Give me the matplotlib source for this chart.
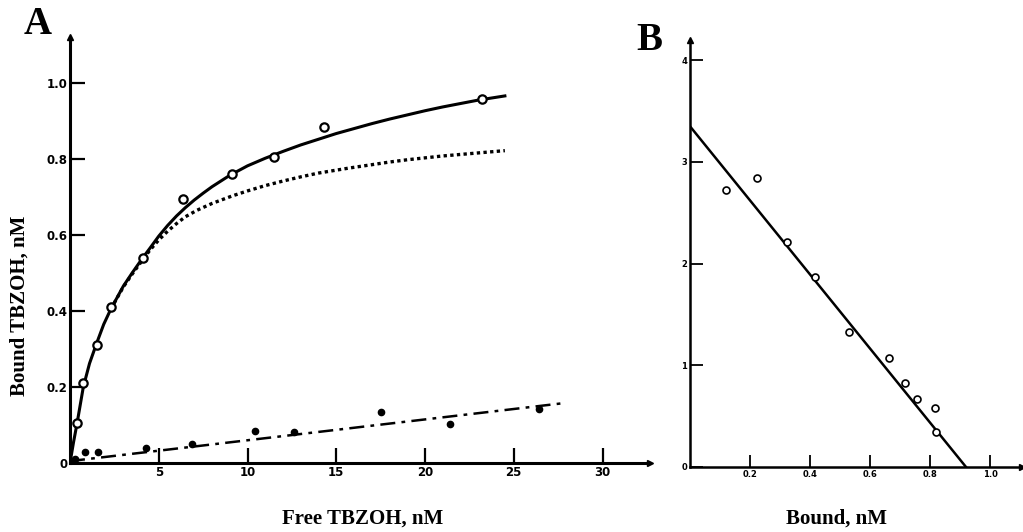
import matplotlib
matplotlib.use("Agg")
import matplotlib.pyplot as plt

# Panel A: saturation binding of TBZOH
total_x = [0.4, 0.75, 1.5, 2.3, 4.1, 6.35, 9.15, 11.5, 14.3, 23.2]
total_y = [0.105, 0.21, 0.31, 0.41, 0.54, 0.695, 0.76, 0.805, 0.885, 0.958]

nonspec_x = [0.3, 0.85, 1.6, 4.3, 6.9, 10.4, 12.6, 17.5, 21.4, 26.4]
nonspec_y = [0.01, 0.03, 0.03, 0.04, 0.05, 0.083, 0.082, 0.134, 0.103, 0.142]

# fitted curves
total_fit_x = [0, 0.2, 0.4, 0.75, 1.1, 1.5, 1.9, 2.3, 3.0, 3.5, 4.1, 4.5, 5.0, 5.5, 6.0,
               6.5, 7.0, 7.5, 8.0, 9.0, 10.0, 11.0, 12.0, 13.0, 14.0, 15.0, 16.0,
               17.0, 18.0, 19.0, 20.0, 21.0, 22.0, 23.0, 24.5]
total_fit_y = [0, 0.055, 0.105, 0.2, 0.262, 0.315, 0.365, 0.405, 0.465, 0.5, 0.54, 0.565,
               0.597, 0.625, 0.65, 0.672, 0.692, 0.71, 0.727, 0.757, 0.782, 0.802,
               0.82, 0.837, 0.852, 0.867, 0.88, 0.893, 0.905, 0.916, 0.927, 0.937,
               0.946, 0.955, 0.966]

spec_fit_x = [2.3, 3.0, 3.5, 4.1, 4.5, 5.0, 5.5, 6.0, 6.5, 7.15, 8.0, 9.15, 10.0, 11.0,
              12.0, 13.0, 14.0, 15.7, 17.0, 18.0, 19.0, 20.0, 21.0, 22.0, 23.0, 24.5]
spec_fit_y = [0.405, 0.463, 0.497, 0.535, 0.56, 0.587, 0.61, 0.63, 0.648, 0.665, 0.683,
              0.703, 0.716, 0.73, 0.742, 0.753, 0.763, 0.776, 0.785, 0.792, 0.798,
              0.803, 0.808, 0.812, 0.816, 0.822]

nonspec_fit_x = [0, 27.9]
nonspec_fit_y = [0.005, 0.158]

a_xticks = [5, 10, 15, 20, 25, 30]
a_yticks = [0, 0.2, 0.4, 0.6, 0.8, 1.0]
a_yticklabels = ["0", "0.2", "0.4", "0.6", "0.8", "1.0"]

# Panel B: Scatchard plot
scat_x = [0.12, 0.223, 0.323, 0.417, 0.53, 0.663, 0.717, 0.757, 0.817, 0.82]
scat_y = [2.72, 2.84, 2.21, 1.87, 1.33, 1.07, 0.83, 0.67, 0.58, 0.34]
scat_fit_x = [0.0, 0.92]
scat_fit_y = [3.35, 0.0]

b_xticks = [0.2, 0.4, 0.6, 0.8, 1.0]
b_xticklabels = ["0.2", "0.4", "0.6", "0.8", "1.0"]
b_yticks = [0, 1, 2, 3, 4]

W, H = 1023, 532
fig = plt.figure(figsize=(W / 100, H / 100), dpi=100)


def px_axes(x0, y0, x1, y1):
    # x0,y0 = origin pixel, x1,y1 = far corner pixel (image coords)
    return fig.add_axes([x0 / W, 1 - y0 / H, (x1 - x0) / W, (y0 - y1) / H])


def style_axes(ax, lw, ticklen, tickw, labelsize):
    for s in ("top", "right"):
        ax.spines[s].set_visible(False)
    for s in ("left", "bottom"):
        ax.spines[s].set_linewidth(lw)
    ax.tick_params(direction="in", length=ticklen, width=tickw,
                   labelsize=labelsize, pad=2)
    for lab in ax.get_xticklabels() + ax.get_yticklabels():
        lab.set_fontweight("bold")
    # arrow heads at the axis ends
    ax.plot(1, 0, ">", color="black", ms=5, transform=ax.transAxes, clip_on=False)
    ax.plot(0, 1, "^", color="black", ms=5, transform=ax.transAxes, clip_on=False)


# ---- panel A ----
axA = px_axes(70, 463, 650, 37)
axA.set_xlim(0, (650 - 70) / 17.75)
axA.set_ylim(0, (463 - 37) / 380)

axA.plot(total_fit_x, total_fit_y, color="black", lw=2.2)
axA.plot(spec_fit_x, spec_fit_y, color="black", lw=2.4, linestyle=(0, (1, 1)))
axA.plot(nonspec_fit_x, nonspec_fit_y, color="black", lw=1.8,
         linestyle=(0, (6, 2.5, 1.5, 2.5)))
axA.plot(total_x, total_y, "o", ms=6, mfc="white", mec="black", mew=1.6)
axA.plot(nonspec_x, nonspec_y, "o", ms=4.5, color="black")

axA.set_xticks(a_xticks)
axA.set_yticks(a_yticks)
axA.set_yticklabels(a_yticklabels)
style_axes(axA, 2.2, 11, 1.6, 8.5)

# ---- panel B ----
axB = px_axes(690, 467, 1022, 40)
axB.set_xlim(0, (1022 - 690) / 300)
axB.set_ylim(0, (467 - 40) / 101.7)

axB.plot(scat_fit_x, scat_fit_y, color="black", lw=1.8)
axB.plot(scat_x, scat_y, "o", ms=5, mfc="white", mec="black", mew=1.2)

axB.set_xticks(b_xticks)
axB.set_xticklabels(b_xticklabels)
axB.set_yticks(b_yticks)
style_axes(axB, 1.8, 9, 1.3, 6)

# panel letters and axis titles
serif = "Liberation Serif"
fig.text(38 / W, 1 - 25 / H, "A", family=serif, fontweight="bold",
         fontsize=28, ha="center", va="center")
fig.text(649 / W, 1 - 41 / H, "B", family=serif, fontweight="bold",
         fontsize=28, ha="center", va="center")
fig.text(20 / W, 1 - 306 / H, "Bound TBZOH, nM", family=serif,
         fontweight="bold", fontsize=15, rotation=90, ha="center", va="center")
fig.text(363 / W, 1 - 519 / H, "Free TBZOH, nM", family=serif,
         fontweight="bold", fontsize=15, ha="center", va="center")
fig.text(837 / W, 1 - 519 / H, "Bound, nM", family=serif,
         fontweight="bold", fontsize=15, ha="center", va="center")

fig.savefig("out.png", dpi=100)
